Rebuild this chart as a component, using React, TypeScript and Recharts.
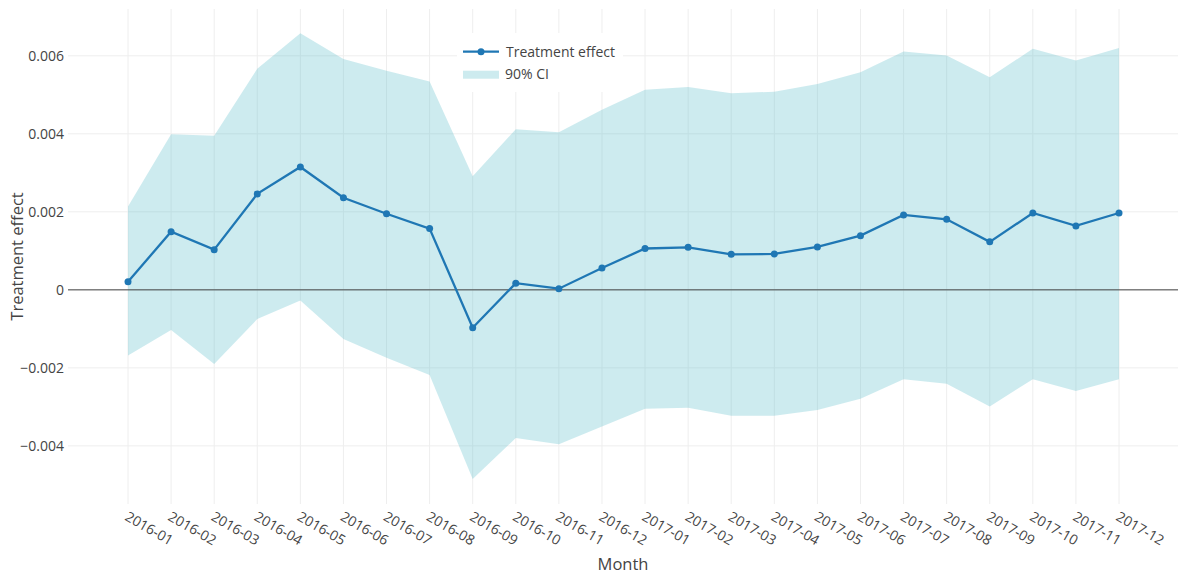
import React from 'react';
import {
  ComposedChart,
  Area,
  Line,
  XAxis,
  YAxis,
  CartesianGrid,
  ReferenceLine,
  Legend,
  Label
} from 'recharts';

const months = [
  '2016-01', '2016-02', '2016-03', '2016-04', '2016-05', '2016-06',
  '2016-07', '2016-08', '2016-09', '2016-10', '2016-11', '2016-12',
  '2017-01', '2017-02', '2017-03', '2017-04', '2017-05', '2017-06',
  '2017-07', '2017-08', '2017-09', '2017-10', '2017-11', '2017-12'
];

const effect = [
  0.00021, 0.00149, 0.00103, 0.00246, 0.00315, 0.00236,
  0.00195, 0.00157, -0.00097, 0.00017, 0.00003, 0.00056,
  0.00106, 0.00109, 0.00091, 0.00092, 0.00110, 0.00139,
  0.00192, 0.00181, 0.00123, 0.00197, 0.00164, 0.00197
];

const ciHigh = [
  0.00214, 0.00399, 0.00395, 0.00567, 0.00658, 0.00592,
  0.00562, 0.00534, 0.00291, 0.00412, 0.00404, 0.00462,
  0.00513, 0.00520, 0.00504, 0.00508, 0.00528, 0.00558,
  0.00611, 0.00601, 0.00545, 0.00618, 0.00588, 0.00620
];

const ciLow = [
  -0.00168, -0.00103, -0.00190, -0.00075, -0.00027, -0.00126,
  -0.00174, -0.00218, -0.00485, -0.00380, -0.00396, -0.00350,
  -0.00305, -0.00302, -0.00323, -0.00323, -0.00308, -0.00279,
  -0.00229, -0.00241, -0.00299, -0.00229, -0.00259, -0.00229
];

const yTicks = [-0.004, -0.002, 0, 0.002, 0.004, 0.006];

const data = months.map((m, i) => ({
  month: m,
  effect: effect[i],
  ci: [ciLow[i], ciHigh[i]]
}));

const FONT = '"Open Sans", sans-serif';
const LINE_COLOR = '#1f77b4';
const CI_COLOR = '#58bcca';

const fmtY = (v: number) => (v === 0 ? '0' : v.toFixed(3).replace('-', '\u2212'));

// rotated month labels, anchored just left of the tick like plotly does
const MonthTick = ({ x, y, payload }: any) => (
  <g transform={`translate(${x - 4},${y + 15.5})`}>
    <text transform="rotate(30)" textAnchor="start" fill="#444" fontSize={14} fontFamily={FONT}>
      {payload.value}
    </text>
  </g>
);

const YTitle = ({ viewBox }: any) => {
  const cx = viewBox.x + 23;
  const cy = viewBox.y + viewBox.height / 2;
  return (
    <text
      x={cx}
      y={cy}
      transform={`rotate(-90 ${cx} ${cy})`}
      textAnchor="middle"
      fill="#444"
      fontSize={16.5}
      fontFamily={FONT}
    >
      Treatment effect
    </text>
  );
};

const XTitle = ({ viewBox }: any) => (
  <text
    x={viewBox.x + viewBox.width / 2}
    y={viewBox.y + 66}
    textAnchor="middle"
    fill="#444"
    fontSize={16.5}
    fontFamily={FONT}
  >
    Month
  </text>
);

const LegendBox = () => (
  <div style={{ background: '#fff', width: 166, height: 59 }}>
    <svg width={166} height={59} style={{ display: 'block' }}>
      <line x1={6} x2={42} y1={18.7} y2={18.7} stroke={LINE_COLOR} strokeWidth={2.3} />
      <circle cx={24} cy={18.7} r={3.5} fill={LINE_COLOR} />
      <text x={49} y={23.5} fill="#444" fontSize={14} fontFamily={FONT}>
        Treatment effect
      </text>
      <rect x={6} y={37.7} width={36} height={8} fill={CI_COLOR} fillOpacity={0.3} />
      <text x={48} y={46.3} fill="#444" fontSize={14} fontFamily={FONT}>
        90% CI
      </text>
    </svg>
  </div>
);

const App: React.FC = () => {
  return (
    <div style={{ position: 'absolute', left: 0, top: 0, width: 1178, height: 574, background: '#fff' }}>
      <ComposedChart width={1178} height={574} data={data} margin={{ top: 9, right: 0, left: 0, bottom: 0 }}>
        <CartesianGrid stroke="#eee" strokeWidth={1} syncWithTicks />
        <XAxis
          dataKey="month"
          scale="point"
          padding={{ left: 60, right: 59 }}
          height={70}
          axisLine={false}
          tickLine={false}
          tickSize={0}
          tickMargin={0}
          interval={0}
          tick={<MonthTick />}
        >
          <Label content={<XTitle />} />
        </XAxis>
        <YAxis
          type="number"
          width={68}
          domain={[-0.00549, 0.0072]}
          allowDataOverflow
          ticks={yTicks}
          tickFormatter={fmtY}
          axisLine={false}
          tickLine={false}
          tickSize={0}
          tickMargin={4}
          tick={{ fill: '#444', fontSize: 14, fontFamily: FONT }}
        >
          <Label content={<YTitle />} />
        </YAxis>
        <Area
          type="linear"
          dataKey="ci"
          stroke="none"
          fill={CI_COLOR}
          fillOpacity={0.3}
          isAnimationActive={false}
        />
        <ReferenceLine y={0} stroke="#444" strokeWidth={1} />
        <Line
          type="linear"
          dataKey="effect"
          stroke={LINE_COLOR}
          strokeWidth={2.3}
          dot={{ r: 3.5, fill: LINE_COLOR, stroke: LINE_COLOR, strokeWidth: 0 }}
          isAnimationActive={false}
        />
        <Legend
          layout="horizontal"
          verticalAlign="middle"
          align="center"
          wrapperStyle={{ left: 457, top: 33, width: 166, height: 59 }}
          content={<LegendBox />}
        />
      </ComposedChart>
    </div>
  );
};

export default App;
